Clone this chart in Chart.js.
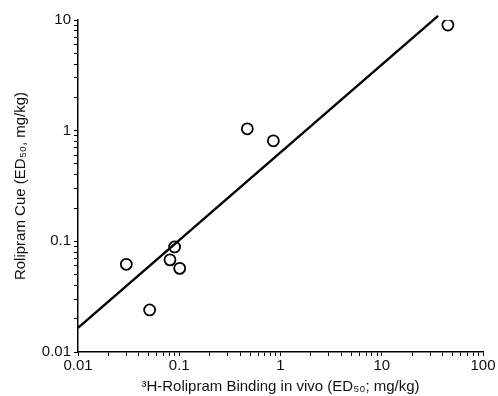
<!DOCTYPE html>
<html>
<head>
<meta charset="utf-8">
<script src="https://cdn.jsdelivr.net/npm/chart.js@4.4.1/dist/chart.umd.min.js"></script>
<style>
  html, body { margin: 0; padding: 0; background: #fff; }
  #wrap { width: 498px; height: 396px; }
</style>
</head>
<body>
<div id="wrap"><canvas id="c"></canvas></div>
<script>
// binding ED50 (x) vs cue ED50 (y), mg/kg
const bindingEd50 = [0.03, 0.051, 0.081, 0.09, 0.101, 0.47, 0.85, 45];
const cueEd50 = [0.062, 0.024, 0.068, 0.089, 0.057, 1.04, 0.81, 9.0];

// regression line end points
const fitX = [0.01, 36];
const fitY = [0.0165, 10.9];

const xTickLabels = ['0.01', '0.1', '1', '10', '100'];
const yTickLabels = ['0.01', '0.1', '1', '10'];

const FONT = '"Liberation Sans", Arial, sans-serif';

function logTicks(labels) {
  const out = [];
  const lo = Math.log10(parseFloat(labels[0]));
  const hi = Math.log10(parseFloat(labels[labels.length - 1]));
  for (let e = lo; e < hi; e++) {
    for (let m = 1; m < 10; m++) out.push({ value: +(m * Math.pow(10, e)).toPrecision(3) });
  }
  out.push({ value: parseFloat(labels[labels.length - 1]) });
  return out;
}

function labelFor(labels) {
  return function (v) {
    const hit = labels.find(l => Math.abs(parseFloat(l) - v) < 1e-9);
    return hit || '';
  };
}

new Chart(document.getElementById('c'), {
  type: 'scatter',
  data: {
    datasets: [
      {
        label: 'fit',
        data: fitX.map((x, i) => ({ x: x, y: fitY[i] })),
        showLine: true,
        clip: false,
        borderColor: '#000',
        borderWidth: 2.4,
        pointRadius: 0,
        fill: false,
      },
      {
        label: 'compounds',
        data: bindingEd50.map((x, i) => ({ x: x, y: cueEd50[i] })),
        pointStyle: 'circle',
        pointRadius: 5.5,
        borderWidth: 1.8,
        borderColor: '#000',
        backgroundColor: '#fff',
      },
    ],
  },
  options: {
    responsive: true,
    maintainAspectRatio: false,
    animation: false,
    layout: { padding: { top: 20, right: 15, left: 12 } },
    plugins: {
      legend: { display: false },
      tooltip: { enabled: false },
    },
    scales: {
      x: {
        type: 'logarithmic',
        min: 0.01,
        max: 100,
        afterBuildTicks: s => { s.ticks = logTicks(xTickLabels); },
        afterFit: s => { s.height = 44; },
        grid: { drawOnChartArea: false, tickLength: 4, color: '#000' },
        border: { color: '#000', width: 1.5 },
        ticks: {
          autoSkip: false, maxRotation: 0, padding: 1,
          color: '#111', font: { family: FONT, size: 15 },
          callback: labelFor(xTickLabels),
        },
        title: {
          display: true,
          text: '³H-Rolipram Binding in vivo (ED₅₀; mg/kg)',
          color: '#111', font: { family: FONT, size: 15 },
          padding: { top: 0, bottom: 0 },
        },
      },
      y: {
        type: 'logarithmic',
        min: 0.01,
        max: 10,
        afterBuildTicks: s => { s.ticks = logTicks(yTickLabels); },
        afterFit: s => { s.width = 66; },
        grid: { drawOnChartArea: false, tickLength: 4, color: '#000' },
        border: { color: '#000', width: 1.5 },
        ticks: {
          autoSkip: false, padding: 3,
          color: '#111', font: { family: FONT, size: 15 },
          callback: labelFor(yTickLabels),
        },
        title: {
          display: true,
          text: 'Rolipram Cue (ED₅₀, mg/kg)',
          color: '#111', font: { family: FONT, size: 15 },
          padding: { top: 0, bottom: 4 },
        },
      },
    },
  },
});
</script>
</body>
</html>
